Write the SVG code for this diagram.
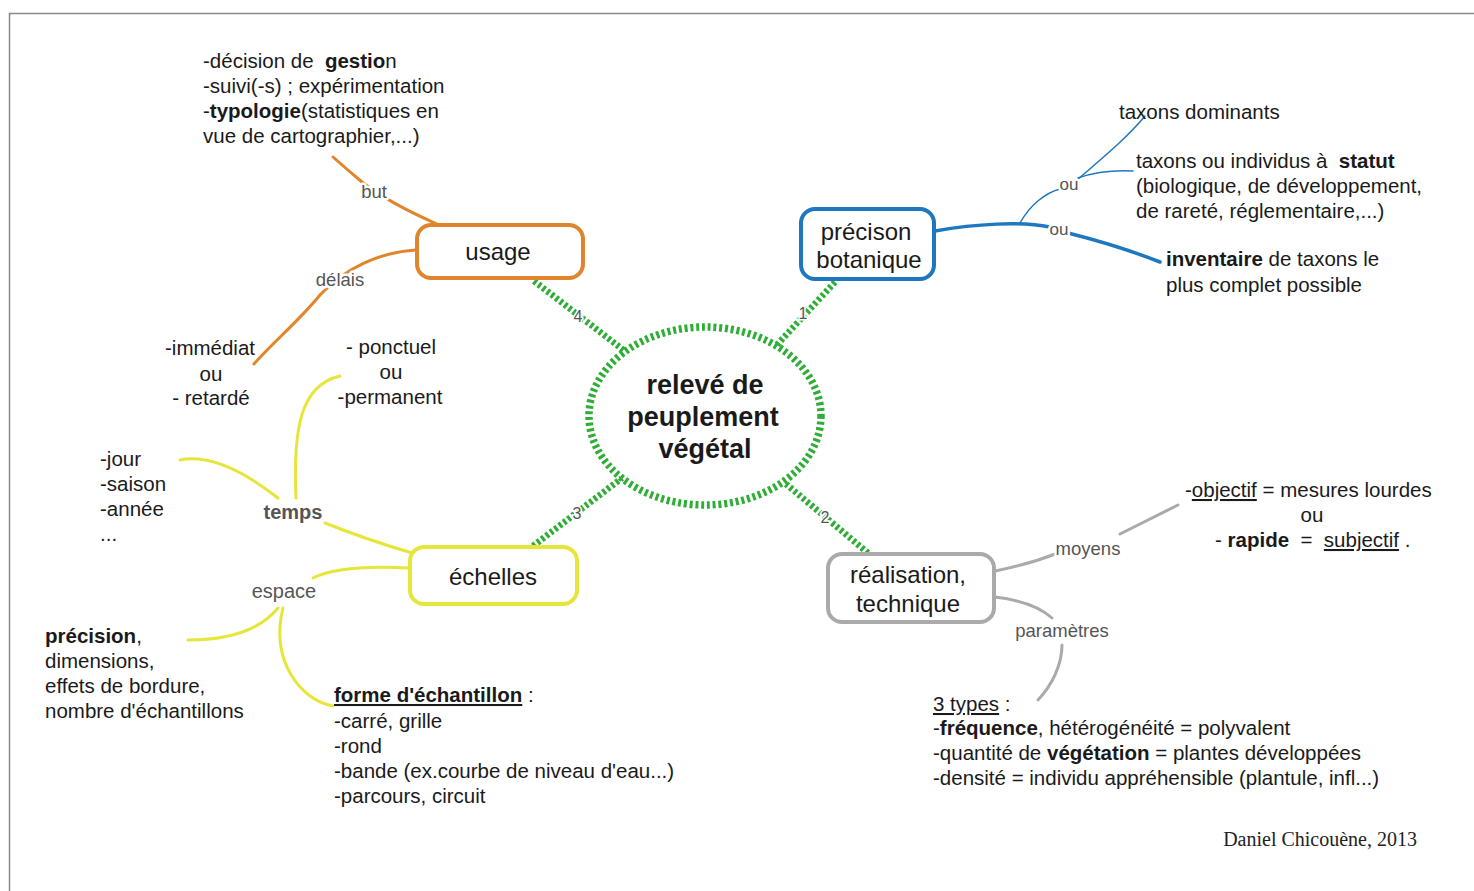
<svg xmlns="http://www.w3.org/2000/svg" width="1474" height="891" viewBox="0 0 1474 891">
<style>
text{font-family:"Liberation Sans",Arial,sans-serif;fill:#1a1a1a}
.t{font-size:20.5px}
.node{font-size:24px;text-anchor:middle}
.lbl{font-size:18.5px;fill:#555;text-anchor:middle;paint-order:stroke;stroke:#fff;stroke-width:5px;stroke-linejoin:round}
.num{font-size:16px;fill:#555;text-anchor:middle;paint-order:stroke;stroke:#fff;stroke-width:3px}
.b{font-weight:bold}
.u{text-decoration:underline}
.green{fill:none;stroke:#2fae37;stroke-width:6.5;stroke-dasharray:3 2.5}
.or{fill:none;stroke:#e0852c;stroke-width:3;stroke-linecap:round}
.bl{fill:none;stroke:#1f77c0;stroke-linecap:round}
.ye{fill:none;stroke:#e6e63a;stroke-width:3;stroke-linecap:round}
.gr{fill:none;stroke:#aaaaaa;stroke-width:3;stroke-linecap:round}
</style>
<rect x="0" y="0" width="1474" height="891" fill="#fff"/>
<rect x="9.5" y="13.5" width="1500" height="900" fill="none" stroke="#8a8a8a" stroke-width="1.5"/>

<g id="connectors">
  <path class="green" d="M534,281 L626,352"/>
  <path class="green" d="M835,282 L774,348"/>
  <path class="green" d="M533,546 L622,478"/>
  <path class="green" d="M868,553 L786,484"/>
  <path class="or" d="M437,224 C405,210 380,196 362,182 C350,172 342,165 333,157"/>
  <path class="or" d="M416,250 C380,252 345,268 320,295 C298,322 272,343 254,364"/>
  <path class="bl" stroke-width="3.5" d="M935,231 C975,224 1020,221 1050,227"/>
  <path class="bl" stroke-width="3.5" d="M1068,233 C1100,241 1132,251 1160,262"/>
  <path class="bl" stroke-width="1.5" d="M1020,223 C1030,205 1045,193 1060,189"/>
  <path class="bl" stroke-width="1.5" d="M1077,180 C1100,160 1125,140 1145,116"/>
  <path class="bl" stroke-width="1.5" d="M1078,178 C1095,172 1112,170 1133,171"/>
  <path class="gr" d="M995,571 C1020,566 1040,560 1058,553"/>
  <path class="gr" d="M1120,534 C1140,524 1160,514 1178,505"/>
  <path class="gr" d="M995,597 C1020,600 1040,607 1052,618"/>
  <path class="gr" d="M1062,645 C1062,665 1052,685 1038,700"/>
  <path class="ye" d="M412,553 C385,545 355,535 325,523"/>
  <path class="ye" d="M278,498 C255,480 215,453 180,460"/>
  <path class="ye" d="M296,498 C293,430 300,385 340,376"/>
  <path class="ye" d="M409,568 C370,566 335,567 313,578"/>
  <path class="ye" d="M278,608 C260,630 230,640 188,640"/>
  <path class="ye" d="M283,608 C270,660 300,700 333,706"/>
  <text class="lbl" x="374" y="198">but</text>
  <text class="lbl" x="340" y="286">délais</text>
  <text class="lbl" x="1069" y="190" style="font-size:17px">ou</text>
  <text class="lbl" x="1059" y="235" style="font-size:17px">ou</text>
  <text class="lbl" x="1088" y="555">moyens</text>
  <text class="lbl" x="1062" y="637">paramètres</text>
  <text class="lbl b" x="293" y="519" style="font-size:20px">temps</text>
  <text class="lbl" x="284" y="598" style="font-size:20px">espace</text>
  <text class="num" x="578" y="322">4</text>
  <text class="num" x="803" y="319">1</text>
  <text class="num" x="577" y="519">3</text>
  <text class="num" x="825" y="523">2</text>
</g>

<g id="center">
  <ellipse cx="705" cy="416" rx="116" ry="89" fill="#fff" stroke="#2fae37" stroke-width="7.5" stroke-dasharray="3 2.8"/>
  <text class="b" x="705" y="394" text-anchor="middle" font-size="27">relevé de</text>
  <text class="b" x="703" y="426" text-anchor="middle" font-size="27">peuplement</text>
  <text class="b" x="705" y="458" text-anchor="middle" font-size="27">végétal</text>
</g>

<g id="usage">
  <rect x="417" y="225" width="166" height="53" rx="14" fill="#fff" stroke="#e0852c" stroke-width="4"/>
  <text class="node" x="498" y="260">usage</text>
</g>

<g id="precision-botanique">
  <rect x="801" y="209" width="133" height="70" rx="14" fill="#fff" stroke="#1f77c0" stroke-width="4"/>
  <text class="node" x="866" y="240">précison</text>
  <text class="node" x="869" y="268">botanique</text>
</g>

<g id="echelles">
  <rect x="410" y="547" width="167" height="57" rx="14" fill="#fff" stroke="#e6e63a" stroke-width="4"/>
  <text class="node" x="493" y="585">échelles</text>
</g>

<g id="realisation">
  <rect x="828" y="554" width="166" height="68" rx="14" fill="#fff" stroke="#aaaaaa" stroke-width="4"/>
  <text class="node" x="908" y="583">réalisation,</text>
  <text class="node" x="908" y="612">technique</text>
</g>

<g id="usage-but">
  <text class="t" x="203" y="68" xml:space="preserve">-décision de  <tspan class="b">gestio</tspan>n</text>
  <text class="t" x="203" y="93">-suivi(-s) ; expérimentation</text>
  <text class="t" x="203" y="118">-<tspan class="b">typologie</tspan>(statistiques en</text>
  <text class="t" x="203" y="143">vue de cartographier,...)</text>
</g>

<g id="usage-delais">
  <text class="t" x="210" y="355" text-anchor="middle">-immédiat</text>
  <text class="t" x="211" y="381" text-anchor="middle">ou</text>
  <text class="t" x="211" y="405" text-anchor="middle">- retardé</text>
</g>

<g id="temps-ponctuel">
  <text class="t" x="391" y="354" text-anchor="middle">- ponctuel</text>
  <text class="t" x="391" y="379" text-anchor="middle">ou</text>
  <text class="t" x="390" y="404" text-anchor="middle">-permanent</text>
</g>

<g id="temps-jour">
  <text class="t" x="100" y="466">-jour</text>
  <text class="t" x="100" y="491">-saison</text>
  <text class="t" x="100" y="516">-année</text>
  <text class="t" x="100" y="541">...</text>
</g>

<g id="espace-precision">
  <text class="t" x="45" y="643"><tspan class="b">précision</tspan>,</text>
  <text class="t" x="45" y="668">dimensions,</text>
  <text class="t" x="45" y="693">effets de bordure,</text>
  <text class="t" x="45" y="718">nombre d'échantillons</text>
</g>

<g id="espace-forme">
  <text class="t" x="334" y="702"><tspan class="b u">forme d'échantillon</tspan> :</text>
  <text class="t" x="334" y="728">-carré, grille</text>
  <text class="t" x="334" y="753">-rond</text>
  <text class="t" x="334" y="778">-bande (ex.courbe de niveau d'eau...)</text>
  <text class="t" x="334" y="803">-parcours, circuit</text>
</g>

<g id="taxons-dominants">
  <text class="t" x="1119" y="119">taxons dominants</text>
</g>

<g id="taxons-statut">
  <text class="t" x="1136" y="168" xml:space="preserve">taxons ou individus à  <tspan class="b">statut</tspan></text>
  <text class="t" x="1136" y="193">(biologique, de développement,</text>
  <text class="t" x="1136" y="218">de rareté, réglementaire,...)</text>
</g>

<g id="inventaire">
  <text class="t" x="1166" y="266"><tspan class="b">inventaire</tspan> de taxons le</text>
  <text class="t" x="1166" y="292">plus complet possible</text>
</g>

<g id="moyens-detail">
  <text class="t" x="1185" y="497">-<tspan class="u">objectif</tspan> = mesures lourdes</text>
  <text class="t" x="1312" y="522" text-anchor="middle">ou</text>
  <text class="t" x="1215" y="547" xml:space="preserve">- <tspan class="b">rapide</tspan>  =  <tspan class="u">subjectif</tspan> .</text>
</g>

<g id="parametres-detail">
  <text class="t" x="933" y="711"><tspan class="u">3 types</tspan> :</text>
  <text class="t" x="933" y="735">-<tspan class="b">fréquence</tspan>, hétérogénéité = polyvalent</text>
  <text class="t" x="933" y="760">-quantité de <tspan class="b">végétation</tspan> = plantes développées</text>
  <text class="t" x="933" y="785">-densité = individu appréhensible (plantule, infl...)</text>
</g>

<text x="1417" y="846" text-anchor="end" style="font-family:'Liberation Serif','Times New Roman',serif;font-size:20px;fill:#222">Daniel Chicouène, 2013</text>
</svg>
